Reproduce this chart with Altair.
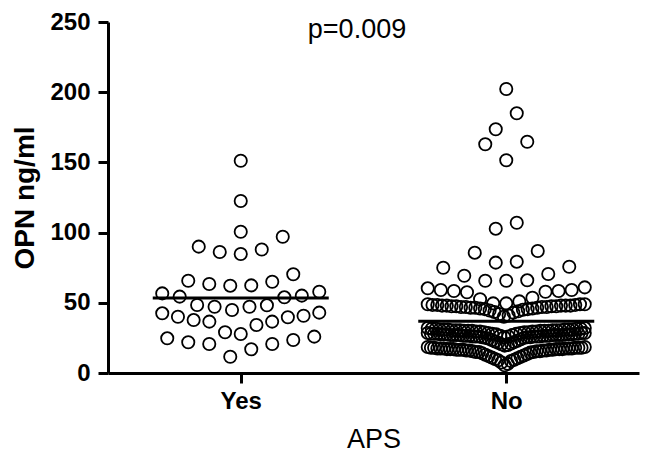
import altair as alt
import pandas as pd

# ---------------- data ----------------
categories = ["Yes", "No"]
p_label = "p=0.009"

# OPN (ng/ml) values, grouped in the horizontal rows of the dot plot
yes_rows = [
    [11.6, 16.9, 20.7, 20.7, 21.9, 23.5, 24.7, 25.9],
    [27.8, 29.0, 34.2, 36.6, 36.6, 37.7, 39.7, 40.1, 40.8, 42.5, 43.0],
    [44.9, 47.2, 47.2, 48.2, 48.4, 53.9, 54.4, 55.1, 56.7, 57.9],
    [62.2, 62.4, 63.4, 65.0, 65.7, 70.3],
    [84.8, 86.2, 88.0, 90.0, 97.0],
    [100.6],
    [122.5],
    [151.2],
]

no_row_a = [5.5, 6.5, 7.5, 8.5, 9, 9.5, 10, 10.5, 11, 11.5, 12, 12.5, 13, 13.5, 14,
            14.5, 15, 15, 15, 15.5, 15.5, 15.5, 16, 16, 16, 16, 16.5, 16.5, 16.5,
            16.5, 16.5, 17, 17, 17, 17, 17, 17, 17.5, 17.5, 17.5, 17.5, 17.5, 17.5,
            18, 18, 18, 18, 18, 18.5, 18.5]
no_row_b = [19.5, 20, 20.5, 21, 21.5, 22, 22.5, 23, 23.5, 24, 24.5, 25, 25, 25.5,
            25.5, 25.5, 26, 26, 26, 26, 26, 26, 26.5, 26.5, 26.5, 26.5, 26.5, 26.5,
            27, 27, 27, 27, 27, 27, 27, 27, 27.5, 27.5, 27.5, 27.5, 27.5, 27.5,
            28, 28, 28, 28, 28, 28.5, 28.5, 28.5]
no_row_c = [25.5, 26, 26.5, 27, 27.5, 28, 28, 28.5, 28.5, 29, 29, 29, 29.5, 29.5,
            29.5, 29.5, 30, 30, 30, 30, 30, 30, 30.5, 30.5, 30.5, 30.5, 30.5, 30.5,
            31, 31, 31, 31, 31, 31, 31.5, 31.5, 31.5, 31.5, 32, 32]
no_row_d = [40, 41, 42, 43, 43.5, 44, 44.5, 45, 45.5, 45.5, 46, 46, 46.5, 46.5,
            46.5, 47, 47, 47, 47, 47.5, 47.5, 47.5, 47.5, 48, 48, 48, 48, 48, 48.5,
            48.5, 48.5, 49, 49, 49]
no_row_e = [49.6, 49.6, 51.0, 52.5, 53.6, 57.5, 57.9, 58.4, 58.4, 59.1, 59.1, 60.3, 61.0]
no_row_f = [65.7, 65.7, 66.0, 69.3, 70.5, 75.0, 75.7]
no_row_g = [78.6, 79.3, 85.7, 86.9]
no_row_h = [102.8, 107.0]
no_row_i = [151.5, 162.9, 164.7]
no_row_j = [173.6, 185.0]
no_row_k = [202.3]
no_rows = [no_row_a, no_row_b, no_row_c, no_row_d, no_row_e, no_row_f,
           no_row_g, no_row_h, no_row_i, no_row_j, no_row_k]

# ---------------- layout (beeswarm rows, computed) ----------------
W, H = 531, 351
STEP_PX = 21.0        # spacing of neighbouring dots in a sparse row
MAX_SPREAD_PX = 157.0  # widest a row may get (dense rows are compressed)
HALF_LINE_PX = 88.0
px_to_x = 2.0 / W

records = []
for gi, (cat, rows) in enumerate(zip(categories, [yes_rows, no_rows])):
    center = gi + 0.5
    for row in rows:
        vals = sorted(row)
        n = len(vals)
        step = STEP_PX if n == 1 else min(STEP_PX, MAX_SPREAD_PX / (n - 1))
        for i, v in enumerate(vals):
            if n % 2 == 1:
                k = (i + 1) // 2
                slot = 0 if i == 0 else (-k if i % 2 == 1 else k)
            else:
                k = i // 2 + 0.5
                slot = -k if i % 2 == 0 else k
            records.append({"group": cat, "opn": v,
                            "xpos": center + slot * step * px_to_x})
df = pd.DataFrame(records)

means = df.groupby("group", sort=False)["opn"].mean().reset_index()
means["center"] = [categories.index(g) + 0.5 for g in means["group"]]
means["x1"] = means["center"] - HALF_LINE_PX * px_to_x
means["x2"] = means["center"] + HALF_LINE_PX * px_to_x

FONT = "Liberation Sans"
label_expr = "['" + "','".join(categories) + "'][round(datum.value - 0.5)]"

xscale = alt.Scale(domain=[0, 2], nice=False, zero=False)
yscale = alt.Scale(domain=[0, 250], nice=False)

points = alt.Chart(df).mark_point(
    shape="circle", filled=False, size=150, strokeWidth=1.8,
    color="black", opacity=1
).encode(
    x=alt.X("xpos:Q", scale=xscale, axis=alt.Axis(
        values=[0.5, 1.5], labelExpr=label_expr, title="APS",
        labelFontWeight="bold", labelFontSize=24, labelPadding=6,
        titleFontSize=27, titleFontWeight="normal", titlePadding=13,
        tickSize=10, grid=False)),
    y=alt.Y("opn:Q", scale=yscale, axis=alt.Axis(
        values=[0, 50, 100, 150, 200, 250], title="OPN ng/ml",
        labelFontWeight="bold", labelFontSize=24, labelPadding=8,
        titleFontSize=28, titleFontWeight="bold",
        titleX=-75, titleY=H / 2, titleAlign="center", titleBaseline="alphabetic",
        titleAngle=270, tickSize=10, grid=False)),
)

lines = alt.Chart(means).mark_rule(color="black", strokeWidth=3).encode(
    x=alt.X("x1:Q", scale=xscale), x2="x2:Q",
    y=alt.Y("opn:Q", scale=yscale),
)

ptext = alt.Chart(pd.DataFrame({"t": [p_label]})).mark_text(
    font=FONT, fontSize=27, color="black", align="center", baseline="alphabetic"
).encode(text="t:N", x=alt.value(249), y=alt.value(16))

chart = alt.layer(points, lines, ptext).properties(
    width=W, height=H,
    autosize=alt.AutoSizeParams(type="none"),
    padding={"left": 100, "top": 14, "right": 6, "bottom": 83},
).configure_view(stroke=None).configure_axis(
    labelFont=FONT, titleFont=FONT, labelColor="black", titleColor="black",
    domainColor="black", tickColor="black", domainWidth=3, tickWidth=3,
)

chart.save("out.html", embed_options={"renderer": "svg", "actions": False})
